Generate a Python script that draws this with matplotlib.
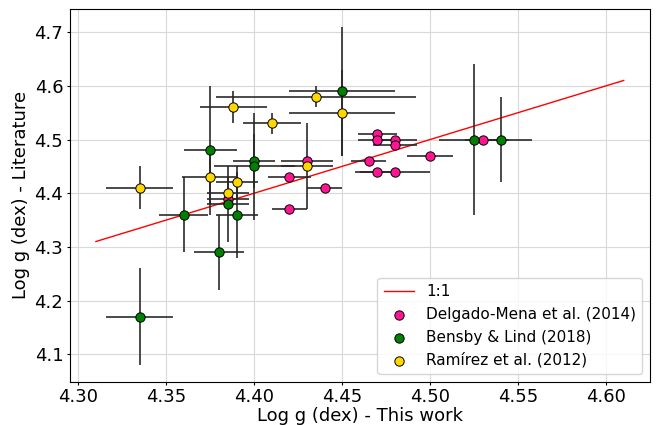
import numpy as np
import matplotlib
matplotlib.use("Agg")
import matplotlib.pyplot as plt

# Delgado-Mena et al. (2014)
dm_x = [4.47, 4.47, 4.48, 4.48, 4.465, 4.50, 4.47, 4.48, 4.44, 4.53, 4.43, 4.42, 4.42, 4.385]
dm_y = [4.51, 4.50, 4.50, 4.49, 4.46, 4.47, 4.44, 4.44, 4.41, 4.50, 4.46, 4.43, 4.37, 4.39]
dm_xerr = [0.011, 0.011, 0.0125, 0.0125, 0.01, 0.013, 0.013, 0.02, 0.01, 0.01, 0.015, 0.012, 0.01, 0.012]

# Bensby & Lind (2018)
bl_x = [4.375, 4.45, 4.40, 4.40, 4.385, 4.39, 4.36, 4.38, 4.335, 4.525, 4.54]
bl_y = [4.48, 4.59, 4.46, 4.45, 4.38, 4.36, 4.36, 4.29, 4.17, 4.50, 4.50]
bl_xerr = [0.015, 0.03, 0.012, 0.023, 0.012, 0.012, 0.014, 0.014, 0.019, 0.02, 0.018]
bl_yerr = [0.12, 0.12, 0.05, 0.10, 0.07, 0.08, 0.07, 0.07, 0.09, 0.14, 0.08]

# Ramirez et al. (2012)
ra_x = [4.335, 4.388, 4.41, 4.435, 4.45, 4.375, 4.39, 4.385, 4.43]
ra_y = [4.41, 4.56, 4.53, 4.58, 4.55, 4.43, 4.42, 4.40, 4.45]
ra_xerr = [0.019, 0.019, 0.0165, 0.057, 0.03, 0.016, 0.012, 0.012, 0.015]
ra_yerr = [0.04, 0.03, 0.02, 0.02, 0.08, 0.05, 0.03, 0.03, 0.08]

one_to_one = [4.31, 4.61]

fig = plt.figure(figsize=(6.62, 4.25), dpi=100)
ax = fig.add_axes([0.105, 0.102, 0.877, 0.878])

ax.plot(one_to_one, one_to_one, color="red", lw=1, label="1:1", zorder=2)

ebar = dict(fmt="none", ecolor="0.15", elinewidth=1.3, alpha=0.9, zorder=3)
ax.errorbar(dm_x, dm_y, xerr=dm_xerr, **ebar)
ax.errorbar(bl_x, bl_y, xerr=bl_xerr, yerr=bl_yerr, **ebar)
ax.errorbar(ra_x, ra_y, xerr=ra_xerr, yerr=ra_yerr, **ebar)

ax.scatter(dm_x, dm_y, s=45, color="deeppink", edgecolor="k", lw=0.7,
           label="Delgado-Mena et al. (2014)", zorder=4)
ax.scatter(bl_x, bl_y, s=45, color="green", edgecolor="k", lw=0.7,
           label="Bensby & Lind (2018)", zorder=5)
ax.scatter(ra_x, ra_y, s=45, color="gold", edgecolor="k", lw=0.7,
           label="Ramírez et al. (2012)", zorder=6)

ax.set_xlim(4.295, 4.625)
ax.set_ylim(4.049, 4.744)
ax.set_xticks(np.arange(4.30, 4.601, 0.05))
ax.set_yticks(np.arange(4.1, 4.71, 0.1))
ax.xaxis.set_major_formatter(matplotlib.ticker.FormatStrFormatter("%.2f"))
ax.yaxis.set_major_formatter(matplotlib.ticker.FormatStrFormatter("%.1f"))
ax.tick_params(labelsize=13, length=2.5, pad=2)
ax.grid(True, color="0.85", lw=0.8)
ax.set_axisbelow(True)
ax.set_xlabel("Log g (dex) - This work", fontsize=13, labelpad=1)
ax.set_ylabel("Log g (dex) - Literature", fontsize=13, labelpad=3)
ax.legend(loc="lower right", fontsize=11, scatterpoints=1)

fig.savefig("out.png", dpi=100)
